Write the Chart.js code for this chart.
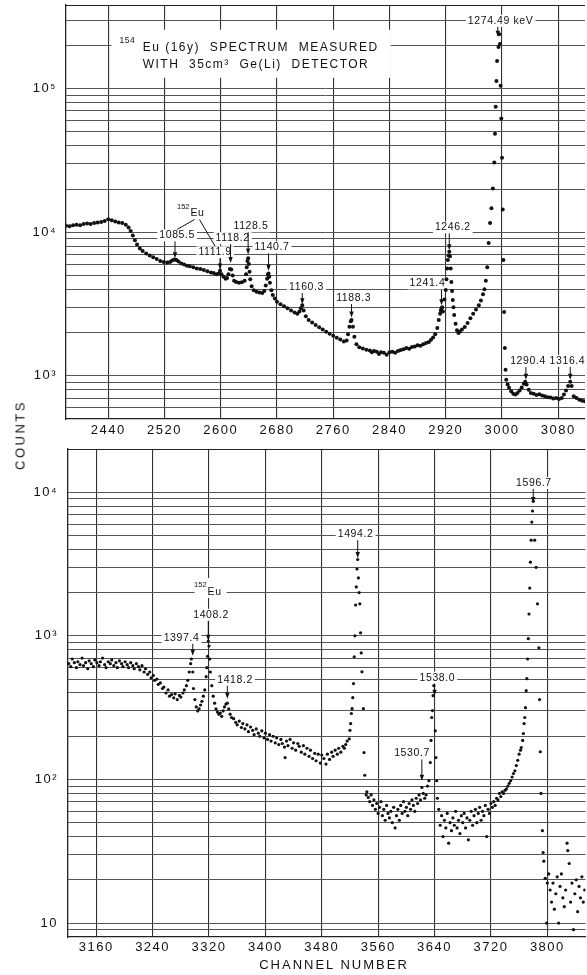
<!DOCTYPE html>
<html>
<head>
<meta charset="utf-8">
<title>154Eu spectrum</title>
<script src="https://cdn.jsdelivr.net/npm/chart.js@4.4.0/dist/chart.umd.min.js"></script>
<style>
  body { margin: 0; background: #fff; width: 587px; height: 975px; position: relative; overflow: hidden;
         font-family: "Liberation Sans", Arial, sans-serif; color: #111; }
  .panel { position: absolute; left: 0; width: 587px; }
  #topPanel { top: 0; height: 445px; }
  #botPanel { top: 445px; height: 530px; }
  #countsLabel { position: absolute; left: 20px; top: 435px; transform: translate(-50%, -50%) rotate(-90deg);
                 font-size: 13px; letter-spacing: 2.5px; white-space: nowrap; }
  #channelLabel { position: absolute; left: 334px; top: 964px; transform: translate(-50%, -50%);
                  font-size: 13px; letter-spacing: 2px; white-space: nowrap; }
</style>
</head>
<body>
<div class="panel" id="topPanel"><canvas id="topChart"></canvas></div>
<div class="panel" id="botPanel"><canvas id="botChart"></canvas></div>
<div id="countsLabel">COUNTS</div>
<div id="channelLabel">CHANNEL NUMBER</div>
<script>
// axis limits and tick labels
const topRange = [2380, 3118];
const bottomRange = [3120, 3854];
const topCountRange = [500, 383000];
const bottomCountRange = [8, 20000];
const topXTicks = [2440, 2520, 2600, 2680, 2760, 2840, 2920, 3000, 3080];
const bottomXTicks = [3160, 3240, 3320, 3400, 3480, 3560, 3640, 3720, 3800];

// [channel, counts]
const topSpectrum = [
  [2380,11100],[2385,11000],[2390,11200],[2395,11300],[2400,11200],[2405,11400],[2410,11500],[2415,11400],
  [2420,11600],[2425,11700],[2430,11800],[2435,12000],[2440,12300],[2445,12100],[2450,11900],[2455,11700],
  [2460,11600],[2465,11300],[2469,10800],[2472,10200],[2475,9500],[2478,8800],[2481,8200],[2485,7700],
  [2489,7400],[2494,7100],[2499,6900],[2504,6700],[2509,6500],[2514,6300],[2519,6200],[2524,6150],
  [2528,6200],[2531,6350],[2534,6450],[2537,6400],[2540,6250],[2544,6050],[2548,5950],[2552,5850],
  [2556,5800],[2561,5700],[2566,5600],[2571,5550],[2576,5450],[2581,5350],[2586,5250],[2590,5200],
  [2594,5100],[2597,5150],[2599,5400],[2601,5100],[2604,4900],[2607,4750],[2609,4800],[2611,5100],
  [2613,5550],[2615,5500],[2617,5000],[2619,4600],[2622,4500],[2626,4450],[2630,4480],[2634,4600],
  [2636,5100],[2637,5700],[2638,6300],[2639,6600],[2640,6000],[2641,5300],[2642,4700],[2644,4200],
  [2647,3950],[2651,3850],[2655,3800],[2659,3780],[2662,3900],[2664,4250],[2666,4750],[2667,5050],
  [2668,5150],[2669,4900],[2670,4450],[2672,3950],[2674,3650],[2677,3450],[2680,3280],[2685,3150],
  [2690,3050],[2695,2950],[2700,2850],[2705,2760],[2709,2700],[2712,2800],[2714,2950],[2716,3100],
  [2718,2850],[2721,2600],[2725,2450],[2730,2350],[2735,2260],[2740,2180],[2745,2100],[2750,2030],
  [2755,1960],[2760,1900],[2765,1840],[2770,1790],[2775,1730],[2779,1760],[2781,1950],[2783,2200],
  [2785,2400],[2786,2450],[2788,2200],[2790,1870],[2793,1660],[2797,1580],[2802,1550],[2807,1520],
  [2812,1500],[2815,1460],[2818,1490],[2822,1470],[2825,1420],[2828,1460],[2832,1450],[2836,1400],
  [2840,1460],[2844,1470],[2848,1450],[2852,1490],[2856,1510],[2860,1530],[2864,1560],[2868,1540],
  [2872,1590],[2876,1600],[2880,1630],[2884,1620],[2888,1660],[2892,1690],[2896,1720],[2899,1780],
  [2902,1850],[2905,1950],[2908,2150],[2910,2450],[2912,2700],[2913,2850],[2914,2950],[2915,3000],
  [2916,2800],[2918,3400],[2920,3960],[2921,4700],[2922,5600],[2923,6400],[2924,6900],[2925,7300],
  [2926,6800],[2927,5600],[2928,4500],[2929,3900],[2930,3370],[2931,3000],[2932,2650],[2934,2300],
  [2936,2080],[2938,1990],[2940,2030],[2943,2100],[2947,2190],[2951,2330],[2955,2520],[2959,2700],
  [2963,2900],[2967,3100],[2970,3350],[2973,3700],[2975,4000],[2977,4600],[2979,5700],[2981,8400],
  [2983,11600],[2985,14700],[2987,20200],[2989,30600],[2990,48500],[2991,75000],[2992,113000],[2993,156000],
  [2995,195000],[2996,240000],[2997,205000],[2998,105000],[2999,62000],[3000,33000],[3001,14400],[3002,6400],
  [3003,2780],[3004,1560],[3005,1100],[3006,940],[3008,870],[3010,825],[3013,780],[3016,750],
  [3019,740],[3022,760],[3025,790],[3028,830],[3031,880],[3033,910],[3035,870],[3038,800],
  [3041,760],[3045,750],[3049,735],[3053,745],[3057,730],[3061,720],[3065,710],[3069,705],
  [3073,695],[3077,700],[3081,690],[3085,700],[3088,740],[3091,790],[3094,850],[3097,910],
  [3099,850],[3102,720],[3106,700],[3110,680],[3114,670],[3118,665]
];

const bottomSpectrum = [
  [3121,640],[3124,610],[3126,690],[3129,650],[3132,600],[3134,660],[3137,630],[3140,700],[3142,620],
  [3145,650],[3148,590],[3150,670],[3153,640],[3156,610],[3158,680],[3161,650],[3164,620],[3166,660],
  [3169,700],[3172,630],[3174,600],[3177,660],[3180,640],[3182,680],[3185,620],[3188,650],[3190,600],
  [3193,670],[3196,640],[3198,610],[3201,660],[3204,630],[3206,600],[3209,650],[3212,620],[3214,590],
  [3217,640],[3220,610],[3222,580],[3225,620],[3228,560],[3230,590],[3233,540],[3236,560],[3238,510],
  [3241,530],[3243,490],[3246,500],[3248,460],[3251,470],[3254,430],[3256,440],[3259,400],[3262,420],
  [3264,380],[3267,390],[3270,370],[3272,395],[3275,360],[3278,385],[3280,375],[3283,400],[3285,420],
  [3288,450],[3290,490],[3292,560],[3294,640],[3295,690],[3297,560],[3298,430],[3300,360],[3302,320],
  [3304,300],[3306,310],[3308,330],[3310,350],[3312,380],[3314,420],[3316,520],[3317,600],[3318,720],
  [3319,920],[3320,850],[3321,690],[3322,560],[3324,450],[3326,380],[3328,340],[3330,310],[3332,295],
  [3334,285],[3336,290],[3338,275],[3340,300],[3342,320],[3344,335],[3346,340],[3348,310],[3350,285],
  [3352,270],[3355,265],[3358,250],[3360,240],[3363,255],[3366,230],[3368,245],[3371,225],[3374,240],
  [3376,215],[3379,232],[3382,220],[3384,205],[3387,225],[3390,210],[3392,200],[3395,218],[3398,195],
  [3400,210],[3403,190],[3406,205],[3408,185],[3411,200],[3414,180],[3416,195],[3419,175],[3422,190],
  [3424,178],[3427,168],[3428,142],[3430,185],[3432,172],[3435,190],[3438,165],[3440,180],[3443,160],
  [3446,178],[3448,170],[3451,155],[3454,172],[3456,150],[3459,165],[3462,145],[3464,160],[3467,140],
  [3470,152],[3472,135],[3475,150],[3478,130],[3480,148],[3483,140],[3486,128],[3488,150],[3491,138],
  [3494,155],[3496,145],[3499,160],[3502,150],[3504,165],[3507,155],[3510,170],[3512,165],[3514,175],
  [3516,185],[3519,192],[3520,220],[3521,245],[3522,288],[3523,311],[3524,371],[3525,465],[3526,715],
  [3527,1000],[3528,1640],[3529,2190],[3530,2920],[3531,3400],[3532,2530],[3533,2000],[3534,1670],
  [3535,1050],[3536,760],[3537,562],[3539,311],[3540,154],[3541,107],[3543,78],[3544,82],[3546,75],
  [3548,70],[3550,78],[3552,66],[3554,72],[3556,62],[3558,68],[3560,58],[3562,64],[3564,70],[3566,56],
  [3568,62],[3570,52],[3572,66],[3574,58],[3576,54],[3578,60],[3580,50],[3582,64],[3584,46],[3586,56],
  [3588,62],[3590,52],[3592,66],[3594,58],[3596,70],[3598,60],[3600,64],[3602,56],[3604,68],[3606,62],
  [3608,72],[3610,66],[3612,60],[3614,74],[3616,68],[3618,78],[3620,72],[3622,88],[3624,80],[3626,74],
  [3628,78],[3630,90],[3632,98],[3634,131],[3635,187],[3636,270],[3637,302],[3638,383],[3639,450],
  [3641,218],[3642,142],[3643,98],[3644,74],[3646,62],[3648,48],[3650,56],[3652,40],[3654,52],[3656,46],
  [3658,58],[3660,36],[3662,50],[3664,44],[3666,54],[3668,48],[3670,60],[3672,46],[3674,52],[3676,42],
  [3678,56],[3680,50],[3682,58],[3684,46],[3686,54],[3688,38],[3690,52],[3692,60],[3694,48],[3696,56],
  [3698,62],[3700,50],[3702,58],[3704,64],[3706,52],[3708,60],[3710,56],[3712,66],[3714,40],[3716,62],
  [3718,58],[3720,68],[3722,64],[3724,70],[3726,66],[3728,74],[3730,72],[3732,80],[3734,76],[3736,82],
  [3738,80],[3740,84],[3742,86],[3744,90],[3746,94],[3748,98],[3750,104],[3752,110],[3754,115],[3756,125],
  [3758,136],[3760,150],[3762,160],[3763,167],[3765,187],[3766,209],[3767,245],[3768,270],[3769,316],
  [3770,415],[3771,503],[3772,690],[3773,955],[3774,1420],[3775,2150],[3776,3260],[3777,4640],[3778,6200],
  [3779,7400],[3780,8650],[3782,4640],[3784,3000],[3786,1670],[3788,825],[3789,360],[3790,156],[3791,80],
  [3793,44],[3794,31],[3795,27],[3797,20.5],[3799,10],[3800,19],[3802,22],[3804,17],[3806,14],[3808,19],
  [3810,12.5],[3812,16],[3814,21],[3816,10],[3818,18],[3820,22],[3822,15],[3824,13],[3826,17],[3828,36],
  [3829,32],[3831,26],[3833,14],[3835,19],[3837,9],[3839,16],[3841,20],[3843,12],[3845,18],[3847,15],
  [3849,21],[3851,14],[3853,17]
];

// peak labels: arrow at ch pointing to tip, text centred at (textCh, textAt)
const topPeaks = [
  { label: '1085.5', ch: 2535, tip: 6600, textCh: 2538, textAt: 9500 },
  { label: '1111.9', ch: 2599, tip: 5500, textCh: 2592, textAt: 7250 },
  { label: '1118.2', ch: 2614, tip: 6100, textCh: 2617, textAt: 9100 },
  { label: '1128.5', ch: 2639, tip: 7000, textCh: 2643, textAt: 11000 },
  { label: '1140.7', ch: 2668, tip: 5400, textCh: 2673, textAt: 7850 },
  { label: '1160.3', ch: 2716, tip: 3150, textCh: 2722, textAt: 4150 },
  { label: '1188.3', ch: 2786, tip: 2550, textCh: 2789, textAt: 3480 },
  { label: '1241.4', ch: 2914, tip: 3100, textCh: 2894, textAt: 4400 },
  { label: '1246.2', ch: 2925, tip: 7500, textCh: 2930, textAt: 10800 },
  { label: '1274.49 keV', ch: 2994, tip: 230000, textCh: 2998, textAt: 297000 },
  { label: '1290.4', ch: 3034, tip: 940, textCh: 3037, textAt: 1270 },
  { label: '1316.4', ch: 3097, tip: 940, textCh: 3093, textAt: 1270 }
];
const bottomPeaks = [
  { label: '1397.4', ch: 3297, tip: 726, textCh: 3281, textAt: 968 },
  { label: '1408.2', ch: 3319, tip: 923, textCh: 3323, textAt: 1400 },
  { label: '1418.2', ch: 3346, tip: 365, textCh: 3357, textAt: 495 },
  { label: '1494.2', ch: 3531, tip: 3480, textCh: 3528, textAt: 5100 },
  { label: '1530.7', ch: 3622, tip: 98, textCh: 3608, textAt: 152 },
  { label: '1538.0', ch: 3640, tip: 383, textCh: 3644, textAt: 511 },
  { label: '1596.7', ch: 3780, tip: 8400, textCh: 3781, textAt: 11600 }
];
const topIsotope = { ch: 2567, at: 13500, links: ['1085.5', '1111.9'] };
const bottomIsotope = { ch: 3328, at: 2020, links: [] };
const topTitle = { supCh: 2456, textCh: 2489, lines: [
  { at: 193000, sup: '154', text: 'Eu (16y)  SPECTRUM  MEASURED' },
  { at: 147000, text: 'WITH  35cm³  Ge(Li)  DETECTOR' }
]};

const FONT = '"Liberation Sans", Arial, sans-serif';
const sup = { '1': '¹', '2': '²', '3': '³', '4': '⁴', '5': '⁵' };

function logGrid(min, max) {
  const out = [];
  for (let e = Math.floor(Math.log10(min)); Math.pow(10, e) <= max; e++) {
    for (let m = 1; m <= 9; m++) {
      const v = m * Math.pow(10, e);
      if (v > min && v < max) out.push(v);
    }
  }
  return out;
}

function decadeLabel(v) {
  const e = Math.log10(v);
  if (Math.abs(e - Math.round(e)) > 1e-9) return '';
  const n = Math.round(e);
  return n === 1 ? '10' : '10' + sup[n];
}

function makeNotes(peaks, isotope, title) {
  const labelFont = '10.5px ' + FONT;
  function place(ctx, xs, ys, p) {
    ctx.font = labelFont;
    ctx.letterSpacing = '0.6px';
    return {
      tx: xs.getPixelForValue(p.textCh), ty: ys.getPixelForValue(p.textAt),
      ax: xs.getPixelForValue(p.ch), tip: ys.getPixelForValue(p.tip),
      w: ctx.measureText(p.label).width
    };
  }
  return {
    id: 'notes',
    beforeDraw(chart) { chart.ctx.letterSpacing = '1.5px'; },
    beforeDatasetsDraw(chart) {
      const { ctx, chartArea: a, scales: { x: xs, y: ys } } = chart;
      ctx.save();
      ctx.fillStyle = '#fff';
      peaks.forEach(p => {
        const q = place(ctx, xs, ys, p);
        ctx.fillRect(q.tx - q.w / 2 - 2, q.ty - 6, q.w + 4, 12);
      });
      if (isotope) {
        const ex = xs.getPixelForValue(isotope.ch), ey = ys.getPixelForValue(isotope.at);
        ctx.fillRect(ex - 20, ey - 14, 32, 20);
      }
      if (title) {
        ctx.font = '12px ' + FONT;
        ctx.letterSpacing = '1.5px';
        const x0 = xs.getPixelForValue(title.supCh), xt = xs.getPixelForValue(title.textCh);
        const wMax = Math.max(...title.lines.map(l => ctx.measureText(l.text).width));
        const y1 = ys.getPixelForValue(title.lines[0].at), y2 = ys.getPixelForValue(title.lines[title.lines.length - 1].at);
        ctx.fillRect(x0 - 8, y1 - 18, xt + wMax + 12 - (x0 - 8), y2 - y1 + 31);
      }
      // top edge of the frame
      ctx.strokeStyle = '#222';
      ctx.lineWidth = 1.2;
      ctx.beginPath();
      ctx.moveTo(a.left, a.top + 0.5);
      ctx.lineTo(a.right, a.top + 0.5);
      ctx.stroke();
      ctx.restore();
    },
    afterDatasetsDraw(chart) {
      const { ctx, scales: { x: xs, y: ys } } = chart;
      ctx.save();
      ctx.fillStyle = '#111';
      ctx.strokeStyle = '#111';
      ctx.lineWidth = 1;
      ctx.textBaseline = 'middle';
      ctx.textAlign = 'center';
      const spots = {};
      peaks.forEach(p => {
        const q = place(ctx, xs, ys, p);
        spots[p.label] = q;
        ctx.fillText(p.label, q.tx, q.ty);
        ctx.beginPath();
        ctx.moveTo(q.ax, q.ty + 6);
        ctx.lineTo(q.ax, q.tip - 4);
        ctx.stroke();
        ctx.beginPath();
        ctx.moveTo(q.ax - 2.2, q.tip - 6);
        ctx.lineTo(q.ax + 2.2, q.tip - 6);
        ctx.lineTo(q.ax, q.tip);
        ctx.closePath();
        ctx.fill();
      });
      if (isotope) {
        const ex = xs.getPixelForValue(isotope.ch), ey = ys.getPixelForValue(isotope.at);
        ctx.font = '10.5px ' + FONT;
        ctx.letterSpacing = '0.6px';
        ctx.fillText('Eu', ex, ey);
        const w = ctx.measureText('Eu').width;
        ctx.font = '7.5px ' + FONT;
        ctx.letterSpacing = '0px';
        ctx.textAlign = 'right';
        ctx.fillText('152', ex - w / 2 - 1, ey - 7);
        ctx.textAlign = 'center';
        isotope.links.forEach((name, i) => {
          const q = spots[name];
          ctx.beginPath();
          ctx.moveTo(ex + (i === 0 ? -3 : 2), ey + 6);
          ctx.lineTo(q.tx, q.ty - 6);
          ctx.stroke();
        });
      }
      if (title) {
        const x0 = xs.getPixelForValue(title.supCh), xt = xs.getPixelForValue(title.textCh);
        ctx.textAlign = 'left';
        title.lines.forEach(l => {
          const y = ys.getPixelForValue(l.at);
          if (l.sup) {
            ctx.font = '8.5px ' + FONT;
            ctx.letterSpacing = '0.5px';
            ctx.fillText(l.sup, x0, y - 7);
          }
          ctx.font = '12px ' + FONT;
          ctx.letterSpacing = '1.5px';
          ctx.fillText(l.text, xt, y);
        });
      }
      ctx.restore();
    }
  };
}

function makePanel(id, spectrum, xRange, yRange, xTicks, opts) {
  const axisColor = '#222';
  return new Chart(document.getElementById(id), {
    type: 'scatter',
    data: {
      datasets: [{
        data: spectrum.map(p => ({ x: p[0], y: p[1] })),
        pointRadius: opts.radius,
        pointBackgroundColor: '#111',
        pointBorderWidth: 0,
        pointHoverRadius: opts.radius
      }]
    },
    options: {
      responsive: true,
      maintainAspectRatio: false,
      animation: false,
      events: [],
      layout: { padding: { top: opts.padTop, left: 0, right: 0, bottom: 0 } },
      plugins: { legend: { display: false }, tooltip: { enabled: false } },
      scales: {
        x: {
          type: 'linear',
          min: xRange[0],
          max: xRange[1],
          afterBuildTicks: s => { s.ticks = xTicks.map(v => ({ value: v })); },
          afterFit: s => { s.height = opts.xHeight; s.paddingLeft = 0; s.paddingRight = 0; },
          grid: { color: '#333', lineWidth: 1.1, drawTicks: false },
          border: { color: axisColor, width: 1.3 },
          ticks: { padding: opts.xPad, color: '#111', font: { family: FONT, size: 13 }, maxRotation: 0, autoSkip: false,
                   callback: v => String(v) }
        },
        y: {
          type: 'logarithmic',
          min: yRange[0],
          max: yRange[1],
          afterBuildTicks: s => { s.ticks = logGrid(yRange[0], yRange[1]).map(v => ({ value: v })); },
          afterFit: s => { s.width = opts.yWidth; s.paddingTop = 0; s.paddingBottom = 0; },
          grid: { color: '#555', lineWidth: 1, drawTicks: false },
          border: { color: axisColor, width: 1.3 },
          ticks: { padding: opts.yPad, color: '#111', font: { family: FONT, size: 13 }, autoSkip: false,
                   callback: v => decadeLabel(v) }
        }
      }
    },
    plugins: [makeNotes(opts.peaks, opts.isotope, opts.title)]
  });
}

makePanel('topChart', topSpectrum, topRange, topCountRange, topXTicks, {
  radius: 2.0, padTop: 5, xHeight: 26, xPad: 4, yWidth: 66, yPad: 9,
  peaks: topPeaks, isotope: topIsotope, title: topTitle
});
makePanel('botChart', bottomSpectrum, bottomRange, bottomCountRange, bottomXTicks, {
  radius: 1.6, padTop: 4, xHeight: 38, xPad: 3, yWidth: 68, yPad: 10,
  peaks: bottomPeaks, isotope: bottomIsotope, title: null
});
</script>
</body>
</html>
